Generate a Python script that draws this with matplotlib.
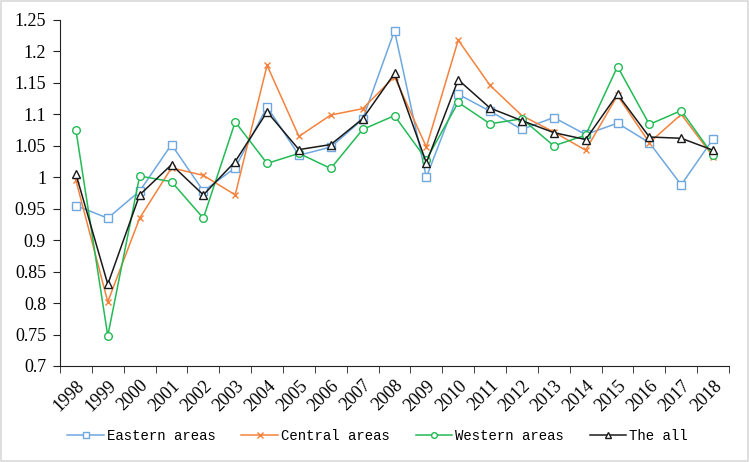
import numpy as np
import matplotlib.pyplot as plt
from matplotlib.patches import Rectangle

years = [str(y) for y in range(1998, 2019)]

eastern = [0.955, 0.935, 0.978, 1.052, 0.978, 1.015, 1.112, 1.035, 1.048, 1.092, 1.233,
           1.000, 1.132, 1.105, 1.076, 1.095, 1.068, 1.086, 1.055, 0.988, 1.061]
central = [0.995, 0.802, 0.935, 1.015, 1.003, 0.972, 1.178, 1.065, 1.099, 1.109, 1.160,
           1.048, 1.218, 1.146, 1.098, 1.072, 1.043, 1.130, 1.055, 1.100, 1.033]
western = [1.075, 0.748, 1.002, 0.993, 0.935, 1.088, 1.022, 1.038, 1.014, 1.076, 1.098,
           1.028, 1.119, 1.085, 1.093, 1.050, 1.067, 1.176, 1.084, 1.106, 1.035]
the_all = [1.005, 0.830, 0.972, 1.020, 0.972, 1.025, 1.104, 1.044, 1.052, 1.093, 1.165,
           1.023, 1.155, 1.110, 1.090, 1.071, 1.060, 1.132, 1.064, 1.062, 1.043]

y_ticks = [0.7, 0.75, 0.8, 0.85, 0.9, 0.95, 1, 1.05, 1.1, 1.15, 1.2, 1.25]
y_labels = ['0.7', '0.75', '0.8', '0.85', '0.9', '0.95', '1', '1.05', '1.1',
            '1.15', '1.2', '1.25']

fig = plt.figure(figsize=(7.49, 4.62), dpi=100)
ax = fig.add_axes([60 / 749, 1 - 366 / 462, 669 / 749, 346 / 462])

x = np.arange(len(years))
series = [
    (eastern, 'Eastern areas', '#6fa8e0', 's'),
    (central, 'Central areas', '#f5823c', 'x'),
    (western, 'Western areas', '#22bb55', 'o'),
    (the_all, 'The all', '#1a1a1a', '^'),
]
for vals, name, col, mk in series:
    ax.plot(x, vals, color=col, lw=1.1, marker=mk, markersize=5.5 if mk != 'x' else 5,
            markerfacecolor='white' if mk != 'x' else col, markeredgecolor=col,
            markeredgewidth=1.0, label=name)

ax.set_xlim(-0.5, len(years) - 0.5)
ax.set_ylim(0.7, 1.25)
ax.set_yticks(y_ticks)
ax.set_yticklabels(y_labels)

ax.set_xticks(x)
ax.set_xticklabels(years, rotation=45, ha='right', rotation_mode='anchor')
ax.set_xticks(np.arange(-0.5, len(years)), minor=True)
ax.tick_params(axis='x', which='major', length=0, pad=8)
ax.tick_params(axis='x', which='minor', length=5, direction='out', color='#222222')
ax.tick_params(axis='y', length=5, direction='out', color='#222222', pad=5)

for lab in ax.get_xticklabels() + ax.get_yticklabels():
    lab.set_fontfamily('Liberation Serif')
    lab.set_fontsize(13)

ax.spines['top'].set_visible(False)
ax.spines['right'].set_visible(False)
ax.spines['left'].set_color('#222222')
ax.spines['bottom'].set_color('#222222')

fig.legend(loc='center', bbox_to_anchor=(0.504, 1 - 436 / 462), ncol=4, frameon=False,
           handlelength=2.6, columnspacing=1.85, handletextpad=0.2, markerscale=0.75,
           borderpad=0, prop={'family': 'Liberation Mono', 'size': 10.1})

fig.patches.append(Rectangle((0.002, 0.003), 0.996, 0.994, transform=fig.transFigure,
                             fill=False, edgecolor='#d9d9d9', lw=1.2))

fig.savefig('out.png', dpi=100)
